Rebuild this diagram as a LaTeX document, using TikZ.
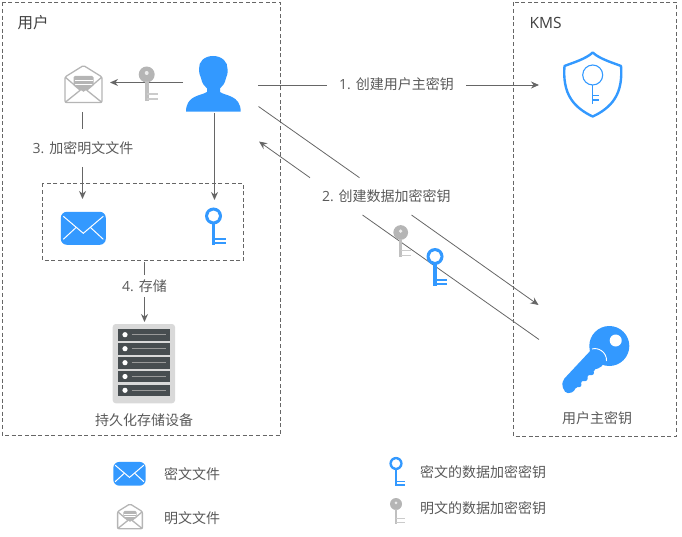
\documentclass[tikz,border=0pt]{standalone}
\usepackage{fontspec}
\setmainfont{Open Sans}
\newfontfamily\cjk{Noto Sans CJK SC}
\usetikzlibrary{arrows.meta}
\definecolor{iconblue}{HTML}{3399FF}
\definecolor{icongray}{HTML}{B5B5B5}
\definecolor{linegray}{HTML}{666666}
\definecolor{textgray}{HTML}{595959}
\definecolor{rackgray}{HTML}{474D50}
\tikzset{
  bluekey/.pic={
    \fill[iconblue,even odd rule] (0,0) circle (8.5) (0,0) circle (5.6);
    \fill[iconblue] (-1.9,7) rectangle (1.9,29);
    \fill[iconblue] (0,22) rectangle (12,24);
    \fill[iconblue] (0,26.5) rectangle (12,28.5);
  },
  graykey/.pic={
    \fill[icongray] (0,0) circle (8);
    \fill[white!75!icongray] (0,-1.5) circle (2);
    \fill[icongray!85] (-1.8,7) rectangle (1.8,27);
    \fill[icongray!70] (0,19) rectangle (11.5,20.5);
    \fill[icongray!70] (0,24) rectangle (11.5,25.5);
  },
  closedmail/.pic={
    \fill[iconblue,rounded corners=6pt] (-22.5,-16.5) rectangle (22.5,16.5);
    \draw[white,line width=1pt] (-20,-12) -- (0,5) -- (20,-12);
    \draw[white,line width=1pt] (-20,11) -- (-7,-1) (20,11) -- (7,-1);
  },
  openmail/.pic={
    \fill[icongray,rounded corners=1.5pt] (-10,-8) rectangle (10,6);
    \draw[white,line width=.8pt] (-9,-3.5) -- (9,-3.5) (-9,0) -- (9,0);
    \fill[white] (-19,-6) -- (0,10) -- (19,-6) -- (19,19) -- (-19,19) -- cycle;
    \draw[icongray,line width=1.3pt,rounded corners=1.5pt]
      (-18.5,-7) -- (0,-18.5) -- (18.5,-7) -- (18.5,18.5) -- (-18.5,18.5) -- cycle;
    \draw[icongray,line width=1.3pt] (-18.5,-7) -- (-8,2) -- (0,7) -- (8,2) -- (18.5,-7);
    \draw[icongray,line width=1.3pt] (-18.5,18.5) -- (-3,6) (18.5,18.5) -- (3,6);
  }
}
\begin{document}
\begin{tikzpicture}[
x=1pt,y=-1pt,
font=\fontsize{14}{16}\selectfont,
frame/.style={draw=linegray,line width=.9pt,dash pattern=on 4pt off 2.6pt},
title/.style={text=black!75,anchor=west,font=\fontsize{15.5}{18}\selectfont},
label/.style={text=textgray},
conn/.style={draw=linegray,line width=.9pt},
tip/.style={conn,-{Stealth[length=8pt,width=7pt]}}
]
    \useasboundingbox (0,0) rectangle (682,537);

    % Draw frames
    \draw[frame] (2.5,2.5) rectangle (280.5,435.5);
    \draw[frame] (513.5,2.5) rectangle (676.5,436);
    \draw[frame] (42.5,183.5) rectangle (243.5,260.5);

    \node[title] (usertitle) at (14,23) {\cjk 用户};
    \node[title] (kmstitle) at (526,22.5) {KMS};

    \draw
    (258,85) coordinate (m1a)
    (327,85) coordinate (m1b)
    (466,85) coordinate (m1c)
    (539,85) coordinate (m1d)
    (258.5,106.5) coordinate (d1a)
    (359.5,177.7) coordinate (d1b)
    (411.5,215) coordinate (d1c)
    (538.5,305) coordinate (d1d)
    (539,339.5) coordinate (d2a)
    (362.5,215) coordinate (d2b)
    (310,177.7) coordinate (d2c)
    (259,141.5) coordinate (d2d)
    (183,82.5) coordinate (u1)
    (110,82.5) coordinate (u2)
    (214.5,113) coordinate (u3)
    (214.5,200) coordinate (u4)
    (82.5,112) coordinate (e1)
    (82.5,129) coordinate (e2)
    (82.5,167) coordinate (e3)
    (82.5,199) coordinate (e4)
    (144.5,262) coordinate (s1)
    (144.5,275) coordinate (s2)
    (144.5,297) coordinate (s3)
    (144.5,322) coordinate (s4);

    % Connectors
    \draw[conn] (m1a) -- (m1b);
    \draw[tip] (m1c) -- (m1d);
    \draw[conn,line width=.8pt] (d1a) -- (d1b);
    \draw[tip,line width=.8pt] (d1c) -- (d1d);
    \draw[conn,line width=.8pt] (d2a) -- (d2b);
    \draw[tip,line width=.8pt] (d2c) -- (d2d);
    \draw[tip] (u1) -- (u2);
    \draw[tip] (u3) -- (u4);
    \draw[conn] (e1) -- (e2);
    \draw[tip] (e3) -- (e4);
    \draw[conn] (s1) -- (s2);
    \draw[tip] (s3) -- (s4);

    \node[label] (step1) at (396.5,84) {1. \cjk 创建用户主密钥};
    \node[label] (step2) at (386.3,196) {2. \cjk 创建数据加密密钥};
    \node[label] (step3) at (83,148) {3. \cjk 加密明文文件};
    \node[label] (step4) at (144.5,286) {4. \cjk 存储};
    \node[label] (storename) at (144,420) {\cjk 持久化存储设备};
    \node[label] (cmkname) at (597,418) {\cjk 用户主密钥};

    % User
    \fill[iconblue] (213,56) .. controls (204,56) and (198.5,62) .. (199,69)
      .. controls (199,73) and (200,76) .. (201,78)
      .. controls (202,83) and (204,86) .. (207,88.5) -- (207,92)
      .. controls (201,96) and (186,95) .. (186,111.7) -- (240.7,111.7)
      .. controls (240.7,95) and (225,96) .. (220,92) -- (220,88.5)
      .. controls (223,86) and (225,83) .. (226,78)
      .. controls (227,76) and (228,73) .. (227.5,69)
      .. controls (228,62) and (222,56) .. (213,56) -- cycle;

    % Icons
    \pic at (83.5,84) {openmail};
    \pic at (146.7,74.5) {graykey};
    \pic at (83.3,228.3) {closedmail};
    \pic at (213.5,216) {bluekey};
    \pic[scale=.92] at (400.7,232.5) {graykey};
    \pic at (435,256.5) {bluekey};
    \pic[scale=.72] at (129.5,473.8) {closedmail};
    \pic[scale=.67] at (130,516.3) {openmail};
    \pic[scale=.78] at (396,463.5) {bluekey};
    \pic[scale=.75] at (396,504) {graykey};

    % Shield
    \draw[iconblue,line width=2.4pt,line join=round]
      (592.7,52.5) .. controls (586,59) and (572,63) .. (564.5,66)
      .. controls (563.5,78) and (565,90) .. (571,99)
      .. controls (576,107) and (585,113) .. (592.7,116.5)
      .. controls (600.5,113) and (609.5,107) .. (614.5,99)
      .. controls (620.5,90) and (622,78) .. (621,66)
      .. controls (613.5,63) and (599.5,59) .. (592.7,52.5) -- cycle;
    \draw[iconblue,line width=1.1pt] (592.7,75) circle (10);
    \draw[iconblue,line width=1.4pt] (592.7,85) -- (592.7,104.5)
      (592.7,95.5) -- (599,95.5) (592.7,100) -- (599,100);

    % Master key
    \fill[iconblue] (609.3,346) circle (20);
    \fill[white] (615.7,340.5) circle (6);
    \fill[iconblue,rounded corners=2pt]
      (592,349) -- (600,350) -- (607,360) -- (600,368) -- (593.5,369.5) -- (594,375)
      -- (587.5,375) -- (587.5,381) -- (581,381) -- (581.5,387) -- (575.5,387)
      -- (574,392) -- (566,393.5) -- (562,386) -- (563,380) -- cycle;
    \draw[white,line width=.9pt] (592,349) .. controls (598,347) and (607,352) .. (606.5,361);

    % Storage
    \fill[gray!30,rounded corners=3pt] (112.7,324) rectangle (175,403.3);
    \foreach \rowy in {329,343,357,370.8,384.6} {
      \fill[rackgray] (118,\rowy) rectangle (170,\rowy+11.5);
      \fill[white] (125,\rowy+5.7) circle (2.6);
      \draw[gray!80,line width=1.1pt] (131.5,\rowy+5.7) -- (166,\rowy+5.7);
    }

    % Legend
    \node[label,anchor=west] (legclosed) at (160.5,474) {\cjk 密文文件};
    \node[label,anchor=west] (legopen) at (160.5,518) {\cjk 明文文件};
    \node[label,anchor=west] (legblue) at (416.5,472.5) {\cjk 密文的数据加密密钥};
    \node[label,anchor=west] (leggray) at (416.5,508.5) {\cjk 明文的数据加密密钥};
\end{tikzpicture}
\end{document}
